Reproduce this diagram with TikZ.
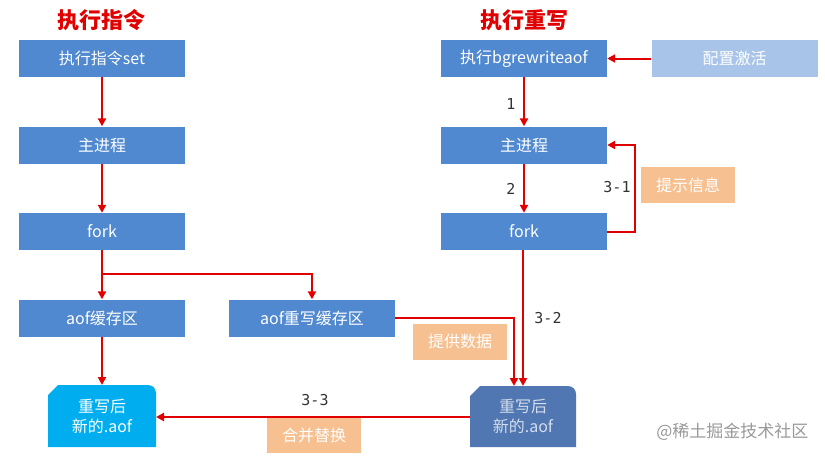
\documentclass[tikz,border=0pt]{standalone}
\usepackage{fontspec}
\setmainfont{Noto Sans CJK SC}
\newfontfamily\monof{DejaVu Sans Mono}
\usetikzlibrary{arrows.meta}
\definecolor{boxblue}{HTML}{5089D0}
\definecolor{lightblue}{HTML}{A8C4E8}
\definecolor{peach}{HTML}{F7C091}
\definecolor{cyanbox}{HTML}{00AEEF}
\definecolor{darkbox}{HTML}{5077B2}
\definecolor{arrred}{HTML}{E00000}
\tikzset{
  bluebox/.style={fill=boxblue, text=white, minimum width=166pt, minimum height=37pt, inner sep=0pt, font=\fontsize{16}{18}\selectfont},
  peachbox/.style={fill=peach, text=white, minimum width=94pt, minimum height=36pt, inner sep=0pt, font=\fontsize{16}{18}\selectfont},
  ttl/.style={text=arrred, font=\fontsize{22}{24}\selectfont\bfseries},
  numlab/.style={text=black!80, font=\monof\fontsize{15}{17}\selectfont},
  arr/.style={draw=arrred, line width=2pt, -{Triangle[length=8pt,width=8pt]}},
  filebox/.style={minimum width=108pt, minimum height=62pt, inner sep=0pt, align=center, font=\fontsize{16}{20}\selectfont},
}
\begin{document}
\begin{tikzpicture}[x=1pt,y=-1pt]
\useasboundingbox (0,0) rectangle (825,458);
% titles
\node[ttl] (t1) at (101,20) {执行指令};
\node[ttl] (t2) at (524,20) {执行重写};
% left column
\node[bluebox] (set) at (102,58.5) {执行指令set};
\node[bluebox] (lmain) at (102,145) {主进程};
\node[bluebox] (lfork) at (102,231.5) {fork};
\node[bluebox] (lbuf) at (102,318) {aof缓存区};
\node[bluebox] (rbuf) at (312,318) {aof重写缓存区};
% right column
\node[bluebox] (bg) at (524,58.5) {执行bgrewriteaof};
\node[bluebox, fill=lightblue] (cfg) at (734.5,58.5) {配置激活};
\node[bluebox] (rmain) at (524,145) {主进程};
\node[bluebox] (rfork) at (524,231.5) {fork};
\node[peachbox] (tip) at (688,185) {提示信息};
\node[peachbox] (data) at (460,341.5) {提供数据};
\node[peachbox, minimum height=35pt] (merge) at (314,435.5) {合并替换};
% file boxes
\fill[cyanbox] (48,395) -- (58,385) [rounded corners=8pt] -- (156,385) [sharp corners] -- (156,447) -- (48,447) -- cycle;
\node[filebox, text=white] (newl) at (102,416) {重写后\\新的.aof};
\fill[darkbox] (470,396) -- (480,386) [rounded corners=8pt] -- (576,386) [sharp corners] -- (576,447) -- (470,447) -- cycle;
\node[filebox, text=white!75!darkbox] (newr) at (523,416.5) {重写后\\新的.aof};
% arrows left
\draw[arr] (set) -- (lmain);
\draw[arr] (lmain) -- (lfork);
\draw[arr] (lfork) -- (lbuf);
\coordinate (split) at (102,274);
\draw[arr] (split) -| (rbuf.north);
\draw[arr] (lbuf) -- (newl.north |- 385,385);
% arrows right
\draw[arr] (cfg) -- (bg);
\draw[arr] (bg) -- (rmain);
\draw[arr] (rmain) -- (rfork);
\coordinate (loopx) at (635,231.5);
\draw[arr] (rfork.east) -- (loopx) |- (rmain.east);
\draw[arr] (rfork.south -| 523,0) -- (523,386);
\draw[arr] (rbuf.east) -| (514,386);
\draw[arr] (470,417) -- (156,417);
% labels
\node[numlab] (n1) at (511,104) {1};
\node[numlab] (n2) at (511,189) {2};
\node[numlab] (n31) at (617,187) {3-1};
\node[numlab] (n32) at (548,318) {3-2};
\node[numlab] (n33) at (315,400) {3-3};
% watermark
\node[text=black!40, font=\fontsize{17}{19}\selectfont, anchor=east] (wm) at (812,432) {@稀土掘金技术社区};
\end{tikzpicture}
\end{document}
